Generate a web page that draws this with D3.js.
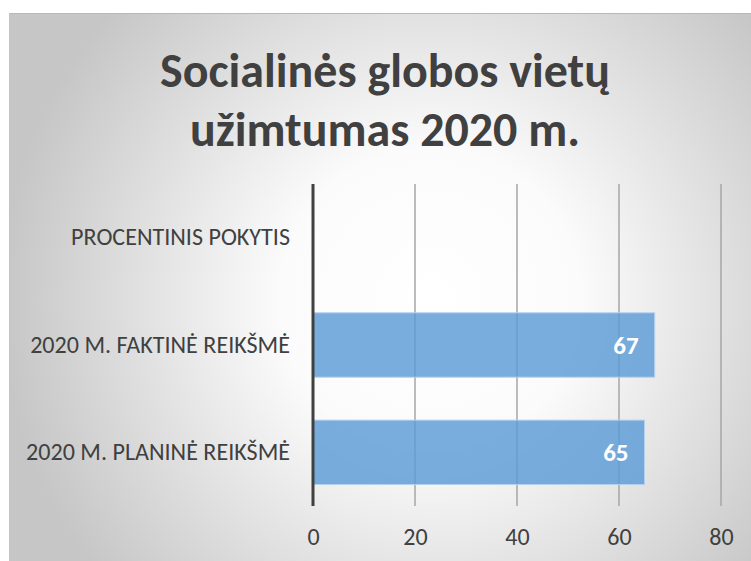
<!DOCTYPE html>
<html><head><meta charset="utf-8">
<script src="https://cdn.jsdelivr.net/npm/d3@7"></script>
<style>html,body{margin:0;padding:0;background:#fff;}svg{display:block;}</style>
</head><body>
<svg id="chart" width="751" height="561"></svg>
<script>
const categories = ["PROCENTINIS POKYTIS", "2020 M. FAKTINĖ REIKŠMĖ", "2020 M. PLANINĖ REIKŠMĖ"];
const values = [null, 67, 65];
const ticks = [0, 20, 40, 60, 80];
const titleLines = ["Socialinės globos vietų", "užimtumas 2020 m."];

const svg = d3.select("#chart");
const W = 751, H = 561;
const font = "Carlito, Calibri, 'Open Sans', sans-serif";

const defs = svg.append("defs");
const grad = defs.append("radialGradient").attr("id", "bg")
  .attr("gradientUnits", "userSpaceOnUse")
  .attr("cx", 430).attr("cy", 300).attr("r", 430);
grad.append("stop").attr("offset", "0").attr("stop-color", "#ffffff");
grad.append("stop").attr("offset", "0.35").attr("stop-color", "#fbfbfb");
grad.append("stop").attr("offset", "1").attr("stop-color", "#c6c6c6");

svg.append("rect").attr("x", 9).attr("y", 13).attr("width", W - 9).attr("height", H - 13)
  .attr("fill", "url(#bg)");
svg.append("line").attr("x1", 9).attr("x2", W).attr("y1", 13.5).attr("y2", 13.5)
  .attr("stroke", "#b8b8b8").attr("stroke-width", 1);
svg.append("line").attr("x1", 9.5).attr("x2", 9.5).attr("y1", 13).attr("y2", H)
  .attr("stroke", "#c4c4c4").attr("stroke-width", 1);

// Title
const title = svg.append("g");
const tl = title.selectAll("text").data(titleLines).join("text")
  .attr("x", 385).attr("y", (d, i) => 87 + i * 59)
  .attr("text-anchor", "middle")
  .attr("font-family", font).attr("font-weight", "bold")
  .attr("font-size", 44).attr("fill", "#404040")
  .text(d => d);
const w0 = tl.nodes()[0].getComputedTextLength();
const fs = 44 * 450 / w0;
tl.attr("font-size", Math.min(fs, 48));

const x = d3.scaleLinear().domain([0, 80]).range([313, 721]);
const y = d3.scaleBand().domain(categories).range([184, 506]).paddingInner(0.4).paddingOuter(0.2);

// gridlines
svg.append("g").selectAll("line").data(ticks.slice(1)).join("line")
  .attr("x1", d => x(d)).attr("x2", d => x(d))
  .attr("y1", 184).attr("y2", 506)
  .attr("stroke", "#a6a6a6").attr("stroke-width", 1.5);

// bars
const data = categories.map((c, i) => ({c, v: values[i]})).filter(d => d.v != null);
svg.append("g").selectAll("rect").data(data).join("rect")
  .attr("x", x(0)).attr("y", d => y(d.c))
  .attr("width", d => x(d.v) - x(0)).attr("height", y.bandwidth())
  .attr("fill", "#5b9bd5").attr("fill-opacity", 0.82)
  .attr("stroke", "#b4d0ee").attr("stroke-width", 1);

// value labels
svg.append("g").selectAll("text").data(data).join("text")
  .attr("x", d => x(d.v) - 16).attr("y", d => y(d.c) + y.bandwidth() / 2)
  .attr("dy", "0.35em").attr("text-anchor", "end")
  .attr("font-family", font).attr("font-weight", "bold").attr("font-size", 25)
  .attr("fill", "#ffffff").text(d => d.v);

// zero axis line
svg.append("line").attr("x1", x(0)).attr("x2", x(0)).attr("y1", 184).attr("y2", 506)
  .attr("stroke", "#404040").attr("stroke-width", 3);

// x axis tick labels
const xAxis = d3.axisBottom(x).tickValues(ticks).tickSize(0).tickPadding(0);
const gx = svg.append("g").attr("transform", "translate(0,530)").call(xAxis);
gx.select(".domain").remove();
gx.selectAll("text").attr("font-family", font).attr("font-size", 24).attr("fill", "#404040")
  .attr("dy", "0.35em").attr("y", 7);

// y axis category labels
const yAxis = d3.axisLeft(y).tickSize(0).tickPadding(0);
const gy = svg.append("g").attr("transform", "translate(290,0)").call(yAxis);
gy.select(".domain").remove();
gy.selectAll("text").attr("font-family", font).attr("font-size", 18).attr("fill", "#404040");
const labNodes = gy.selectAll("text").nodes();
const lw = labNodes[1].getComputedTextLength();
gy.selectAll("text").attr("font-size", 18 * 260 / lw);
</script>
</body></html>
